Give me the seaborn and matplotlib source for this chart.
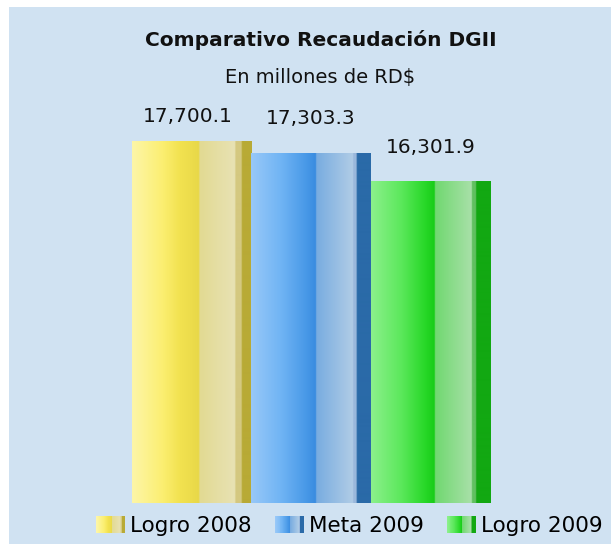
import numpy as np
import pandas as pd
import matplotlib
matplotlib.use("Agg")
import matplotlib.pyplot as plt
import seaborn as sns
from matplotlib.colors import to_rgb
from matplotlib.patches import Rectangle
from matplotlib.legend_handler import HandlerBase

# datos del grafico
categorias = ["Logro 2008", "Meta 2009", "Logro 2009"]
valores = [17700.1, 17303.3, 16301.9]
etiquetas = ["17,700.1", "17,303.3", "16,301.9"]

titulo = "Comparativo Recaudación DGII"
subtitulo = "En millones de RD$"

# degradados horizontales de cada barra (posicion relativa, color)
degradados = {
    "Logro 2008": [(0.0, "#fdf6a8"), (0.26, "#fbee70"), (0.40, "#f2e250"), (0.56, "#e8d848"),
                   (0.562, "#e2da92"), (0.86, "#e8e2b4"), (0.865, "#d4c880"), (0.915, "#d4c880"),
                   (0.918, "#b8aa36"), (1.0, "#b8aa36")],
    "Meta 2009": [(0.0, "#98c8f8"), (0.25, "#70b4f4"), (0.45, "#4a9ae8"), (0.54, "#3a8ce0"),
                  (0.545, "#78ace0"), (0.85, "#b0cce6"), (0.855, "#9ab8dc"), (0.88, "#9ab8dc"),
                  (0.885, "#2a6aa8"), (1.0, "#2a6aa8")],
    "Logro 2009": [(0.0, "#8cf08c"), (0.25, "#5ce85c"), (0.45, "#28d828"), (0.53, "#18cc18"),
                   (0.535, "#70d870"), (0.84, "#a8e0a8"), (0.845, "#60c060"), (0.875, "#60c060"),
                   (0.88, "#12a812"), (1.0, "#12a812")],
}
fondo = "#d0e2f2"


def gradiente(stops, n=240):
    pos = [p for p, _ in stops]
    rgb = np.array([to_rgb(c) for _, c in stops])
    x = np.linspace(0, 1, n)
    img = np.stack([np.interp(x, pos, rgb[:, k]) for k in range(3)], axis=-1)
    return img[None, :, :]


class HandlerDegradado(HandlerBase):
    def __init__(self, img):
        super().__init__()
        self.img = img

    def create_artists(self, legend, orig_handle, xdescent, ydescent, width, height, fontsize, trans):
        n = 30
        idx = np.linspace(0, self.img.shape[1] - 1, n).astype(int)
        cols = self.img[0, idx]
        arts = []
        for i, c in enumerate(cols):
            arts.append(Rectangle((-xdescent + i * width / n, -ydescent), width / n + 0.3, height,
                                  facecolor=c, edgecolor="none", transform=trans))
        return arts


plt.rcParams["font.family"] = ["DejaVu Sans"]

fig = plt.figure(figsize=(6.11, 5.44), dpi=100, facecolor="white")
fig.add_artist(Rectangle((9 / 611, 0), 1, 537 / 544, transform=fig.transFigure,
                         facecolor=fondo, edgecolor="none", zorder=-1))

ax = fig.add_axes([132 / 611, 41 / 544, 358 / 611, 483 / 544])
df = pd.DataFrame({"cat": categorias, "valor": valores})
sns.barplot(data=df, x="cat", y="valor", hue="cat", width=1.0, legend=False, ax=ax,
            palette=["#f2e250", "#4a9ae8", "#28d828"])

ymin, ymax = 5080, 21965
barras = sorted(ax.patches, key=lambda p: p.get_x())
for p, cat in zip(barras, categorias):
    x0, w, h = p.get_x(), p.get_width(), p.get_height()
    p.set_alpha(0)
    ax.imshow(gradiente(degradados[cat]), extent=[x0, x0 + w, 0, h], aspect="auto",
              interpolation="bilinear", zorder=2)

desplaz = [(-3, 18), (0, 25), (0, 25)]
for i, (v, t) in enumerate(zip(valores, etiquetas)):
    ax.annotate(t, (i, v), xytext=desplaz[i], textcoords="offset points",
                ha="center", va="center", fontsize=14.5, color="#111111")

ax.set_xlim(-0.5, 2.5)
ax.set_ylim(ymin, ymax)
ax.set_axis_off()

fig.text(321 / 611, 1 - 40 / 544, titulo, ha="center", va="center", fontsize=14.5,
         fontweight="bold", color="#111111")
fig.text(320 / 611, 1 - 78 / 544, subtitulo, ha="center", va="center", fontsize=14,
         color="#111111")

handles = [Rectangle((0, 0), 1, 1) for _ in categorias]
hmap = {h: HandlerDegradado(gradiente(degradados[c])) for h, c in zip(handles, categorias)}
fig.legend(handles, categorias, handler_map=hmap, loc="center left",
           bbox_to_anchor=(96 / 611, 18 / 544), ncol=3, frameon=False, fontsize=15.5,
           handlelength=1.35, handleheight=0.85, handletextpad=0.25, columnspacing=1.05,
           borderpad=0, borderaxespad=0)

fig.savefig("out.png", dpi=100, facecolor="white")
